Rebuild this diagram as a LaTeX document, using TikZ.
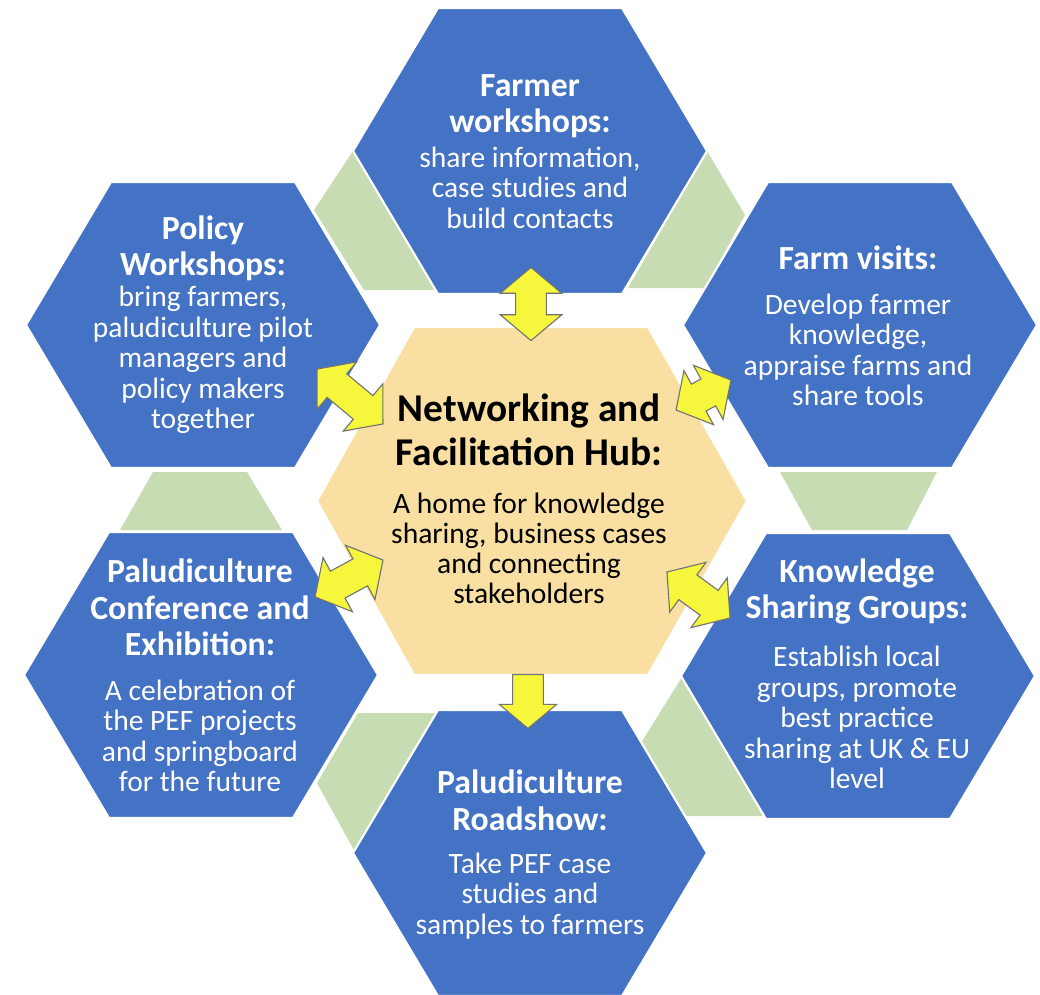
\documentclass[tikz,border=0pt]{standalone}
\usepackage{fontspec}
\setmainfont{Carlito}
\usetikzlibrary{shapes.arrows}
\definecolor{hexblue}{HTML}{4472C4}
\definecolor{hubgold}{HTML}{F9E0A2}
\definecolor{tabgreen}{HTML}{C8DCB4}
\definecolor{linkyellow}{HTML}{F6F63C}
\begin{document}
\begin{tikzpicture}[x=0.025cm,y=-0.025cm,
  cell/.style={fill=hexblue,draw=white,line width=1.5pt},
  hub/.style={fill=hubgold,draw=white,line width=1.5pt},
  tab/.style={fill=tabgreen},
  head/.style={text=white,font=\bfseries\fontsize{24}{26}\selectfont,align=center},
  body/.style={text=white,font=\fontsize{21}{21.7}\selectfont,align=center},
  link/.style={double arrow,draw=black!55,fill=linkyellow,line width=0.8pt,inner xsep=0pt,inner ysep=10.5pt,
    double arrow head extend=11pt,double arrow tip angle=100},
  onelink/.style={single arrow,draw=black!55,fill=linkyellow,line width=0.8pt,inner xsep=0pt,inner ysep=10.5pt,
    single arrow head extend=9.5pt,single arrow tip angle=100}]
\useasboundingbox (0,0) rectangle (1040,994);
\fill[white] (0,0) rectangle (1040,994);
% green tabs between the outer cells
\fill[tab] (353,151) -- (437,290) -- (364,290) -- (314,210) -- cycle;
\fill[tab] (707,151) -- (745,215) -- (705,288) -- (628,288) -- cycle;
\fill[tab] (153,472) -- (247,472) -- (282,530) -- (120,530) -- cycle;
\fill[tab] (780,472) -- (937,472) -- (907,530) -- (812,530) -- cycle;
\fill[tab] (358,713) -- (437,713) -- (355,852) -- (317,783) -- cycle;
\fill[tab] (682,677) -- (763,816) -- (684,816) -- (641,743) -- cycle;
% outer cells and hub
\foreach \cx/\cy in {530/151,203/325,860/325,201/675,858/676,530/853}
  \filldraw[cell] (\cx-177,\cy) -- (\cx-92,\cy-143) -- (\cx+92,\cy-143) -- (\cx+177,\cy)
    -- (\cx+92,\cy+143) -- (\cx-92,\cy+143) -- cycle;
\filldraw[hub] (317,501) -- (414,327) -- (648,327) -- (747,501) -- (648,675) -- (414,675) -- cycle;
% texts
\node[head] (farmerhead) at (530,106) {Farmer\\workshops:};
\node[body] (farmerbody) at (530,187.5) {share information,\\case studies and\\build contacts};
\node[head] (policyhead) at (203,248.5) {Policy\\Workshops:};
\node[body] (policybody) at (203,360) {bring farmers,\\paludiculture pilot\\managers and\\policy makers\\together};
\node[head] (visitshead) at (858,258) {Farm visits:};
\node[body] (visitsbody) at (858,350) {Develop farmer\\knowledge,\\appraise farms and\\share tools};
\node[head] (confhead) at (200,607.5) {Paludiculture\\Conference and\\Exhibition:};
\node[body] (confbody) at (200,736) {A celebration of\\the PEF projects\\and springboard\\for the future};
\node[head] (groupshead) at (857,591.5) {Knowledge\\Sharing Groups:};
\node[body] (groupsbody) at (857,717.5) {Establish local\\groups, promote\\best practice\\sharing at UK \& EU\\level};
\node[head] (roadhead) at (530,800) {Paludiculture\\Roadshow:};
\node[body] (roadbody) at (530,896) {Take PEF case\\studies and\\samples to farmers};
\node[head,text=black,font=\bfseries\fontsize{28}{31.3}\selectfont] (hubhead) at (529,430) {Networking and\\Facilitation Hub:};
\node[body,text=black,font=\fontsize{21}{21.3}\selectfont] (hubbody) at (529,548) {A home for knowledge\\sharing, business cases\\and connecting\\stakeholders};
% arrows
\node[link,rotate=90,minimum height=52pt] (linkfarmer) at (531,304) {};
\node[link,rotate=-39.8,minimum height=61pt] (linkpolicy) at (350,396.5) {};
\node[link,rotate=28.6,minimum height=44.5pt] (linkvisits) at (703.5,395) {};
\node[link,rotate=28.5,minimum height=55pt] (linkconf) at (349,578.5) {};
\node[link,rotate=-36.1,minimum height=55.5pt] (linkgroups) at (698.5,595) {};
\node[onelink,rotate=-90,minimum height=38.4pt] (linkroad) at (528,695) {};
\end{tikzpicture}
\end{document}
